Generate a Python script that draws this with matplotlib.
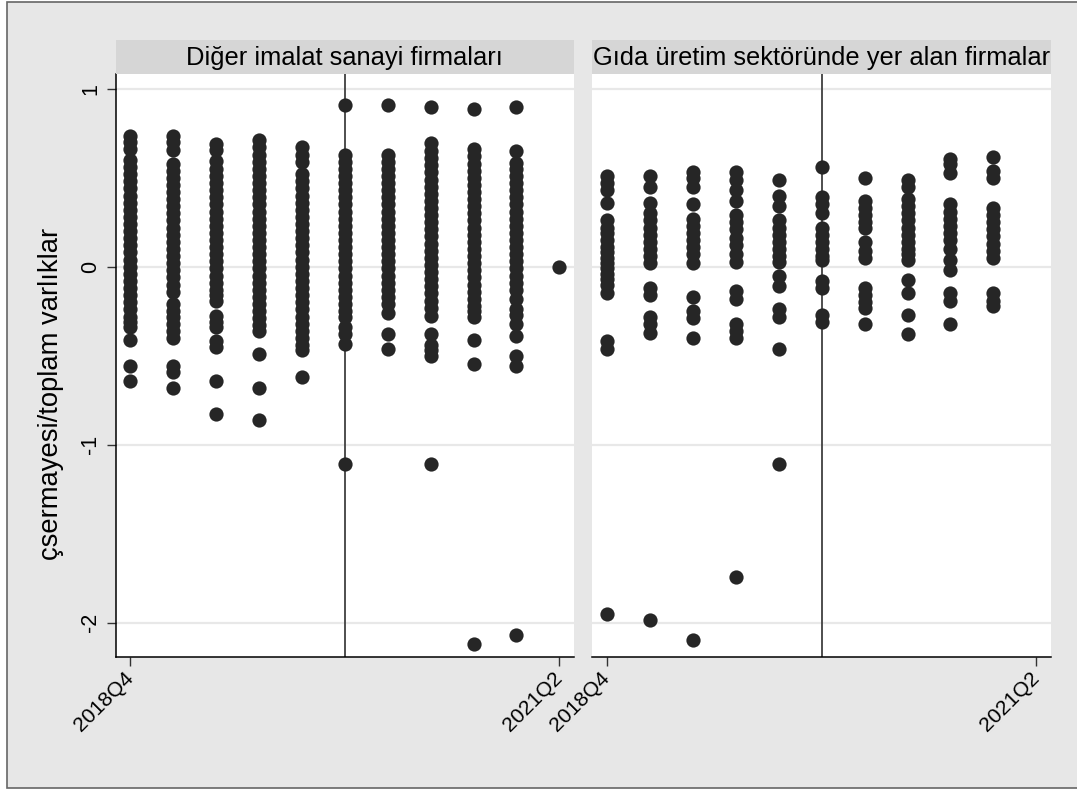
import matplotlib
matplotlib.use("Agg")
import matplotlib.pyplot as plt
from matplotlib.patches import Rectangle

plt.rcParams['font.family'] = ['Liberation Sans', 'DejaVu Sans']

quarters = ["2018Q4", "2019Q1", "2019Q2", "2019Q3", "2019Q4", "2020Q1",
            "2020Q2", "2020Q3", "2020Q4", "2021Q1", "2021Q2"]
panel_titles = ["Diğer imalat sanayi firmaları",
                "Gıda üretim sektöründe yer alan firmalar"]
y_title = "çsermayesi/toplam varlıklar"
break_quarter = "2020Q1"
y_ticks = [-2, -1, 0, 1]

# --- Diğer imalat sanayi firmaları (one list per quarter) ---
d_2018q4 = [0.736, 0.70, 0.66, 0.60, 0.56, 0.52, 0.48, 0.44, 0.40, 0.36, 0.32, 0.28,
            0.24, 0.20, 0.16, 0.12, 0.08, 0.04, 0.00, -0.04, -0.08, -0.12, -0.16,
            -0.20, -0.24, -0.28, -0.31, -0.34, -0.41, -0.556, -0.64]
d_2019q1 = [0.736, 0.70, 0.655, 0.58, 0.54, 0.50, 0.46, 0.42, 0.38, 0.34, 0.30, 0.26,
            0.22, 0.18, 0.14, 0.10, 0.06, 0.02, -0.02, -0.06, -0.10, -0.14, -0.21,
            -0.25, -0.28, -0.32, -0.36, -0.40, -0.556, -0.59, -0.68]
d_2019q2 = [0.69, 0.655, 0.595, 0.55, 0.51, 0.47, 0.43, 0.39, 0.35, 0.31, 0.27, 0.23,
            0.19, 0.15, 0.11, 0.07, 0.03, -0.01, -0.05, -0.09, -0.13, -0.16, -0.19,
            -0.275, -0.31, -0.34, -0.415, -0.45, -0.64, -0.83]
d_2019q3 = [0.71, 0.67, 0.63, 0.59, 0.55, 0.51, 0.47, 0.43, 0.39, 0.35, 0.31, 0.27,
            0.23, 0.19, 0.15, 0.11, 0.07, 0.03, -0.01, -0.05, -0.09, -0.13, -0.17,
            -0.21, -0.25, -0.29, -0.33, -0.36, -0.49, -0.68, -0.86]
d_2019q4 = [0.67, 0.63, 0.59, 0.52, 0.48, 0.44, 0.40, 0.36, 0.32, 0.28, 0.24, 0.20,
            0.16, 0.12, 0.08, 0.04, 0.00, -0.04, -0.08, -0.12, -0.16, -0.20, -0.24,
            -0.28, -0.32, -0.36, -0.40, -0.44, -0.47, -0.62]
d_2020q1 = [0.91, 0.63, 0.59, 0.55, 0.51, 0.47, 0.43, 0.39, 0.35, 0.31, 0.27, 0.23,
            0.19, 0.15, 0.11, 0.07, 0.03, -0.01, -0.05, -0.09, -0.13, -0.17, -0.21,
            -0.25, -0.285, -0.34, -0.38, -0.435, -1.11]
d_2020q2 = [0.91, 0.63, 0.59, 0.55, 0.51, 0.47, 0.43, 0.39, 0.35, 0.31, 0.27, 0.23,
            0.19, 0.15, 0.11, 0.07, 0.03, -0.01, -0.05, -0.09, -0.13, -0.17, -0.21,
            -0.26, -0.38, -0.46]
d_2020q3 = [0.895, 0.695, 0.65, 0.61, 0.57, 0.53, 0.49, 0.45, 0.41, 0.37, 0.33, 0.29,
            0.25, 0.21, 0.17, 0.13, 0.09, 0.05, 0.01, -0.03, -0.07, -0.11, -0.15,
            -0.19, -0.23, -0.275, -0.38, -0.44, -0.47, -0.50, -1.11]
d_2020q4 = [0.885, 0.66, 0.62, 0.58, 0.54, 0.50, 0.46, 0.42, 0.38, 0.34, 0.30, 0.26,
            0.22, 0.18, 0.14, 0.10, 0.06, 0.02, -0.02, -0.06, -0.10, -0.14, -0.18,
            -0.22, -0.25, -0.285, -0.41, -0.545, -2.12]
d_2021q1 = [0.895, 0.65, 0.585, 0.55, 0.51, 0.47, 0.43, 0.39, 0.35, 0.31, 0.27, 0.23,
            0.19, 0.15, 0.11, 0.07, 0.03, -0.01, -0.05, -0.09, -0.13, -0.18, -0.24,
            -0.27, -0.32, -0.39, -0.50, -0.556, -2.07]
d_2021q2 = [0.0]

# --- Gıda üretim sektöründe yer alan firmalar ---
g_2018q4 = [0.51, 0.47, 0.43, 0.36, 0.26, 0.22, 0.19, 0.15, 0.11, 0.08, 0.05, 0.02,
            -0.01, -0.04, -0.07, -0.10, -0.145, -0.42, -0.46, -1.95]
g_2019q1 = [0.51, 0.45, 0.36, 0.30, 0.26, 0.22, 0.18, 0.14, 0.10, 0.06, 0.02,
            -0.12, -0.16, -0.28, -0.32, -0.375, -1.985]
g_2019q2 = [0.53, 0.50, 0.45, 0.35, 0.27, 0.23, 0.19, 0.15, 0.11, 0.07, 0.02,
            -0.17, -0.25, -0.29, -0.40, -2.10]
g_2019q3 = [0.53, 0.49, 0.43, 0.37, 0.29, 0.25, 0.21, 0.16, 0.12, 0.07, 0.025,
            -0.135, -0.18, -0.32, -0.36, -0.40, -1.745]
g_2019q4 = [0.49, 0.40, 0.34, 0.26, 0.22, 0.18, 0.14, 0.10, 0.06, 0.025, -0.05,
            -0.11, -0.24, -0.28, -0.46, -1.11]
g_2020q1 = [0.56, 0.39, 0.35, 0.30, 0.22, 0.18, 0.14, 0.10, 0.06, 0.035, -0.08,
            -0.12, -0.27, -0.31]
g_2020q2 = [0.50, 0.37, 0.33, 0.29, 0.25, 0.22, 0.14, 0.09, 0.05, -0.12, -0.16,
            -0.20, -0.23, -0.32]
g_2020q3 = [0.49, 0.45, 0.38, 0.34, 0.30, 0.26, 0.22, 0.18, 0.14, 0.10, 0.07, 0.04,
            -0.075, -0.15, -0.27, -0.38]
g_2020q4 = [0.605, 0.575, 0.525, 0.35, 0.31, 0.27, 0.23, 0.19, 0.15, 0.10, 0.035,
            -0.02, -0.145, -0.19, -0.32]
g_2021q1 = [0.615, 0.54, 0.50, 0.33, 0.29, 0.25, 0.21, 0.17, 0.13, 0.09, 0.05,
            -0.15, -0.19, -0.22]
g_2021q2 = []

panels = [
    [d_2018q4, d_2019q1, d_2019q2, d_2019q3, d_2019q4, d_2020q1,
     d_2020q2, d_2020q3, d_2020q4, d_2021q1, d_2021q2],
    [g_2018q4, g_2019q1, g_2019q2, g_2019q3, g_2019q4, g_2020q1,
     g_2020q2, g_2020q3, g_2020q4, g_2021q1, g_2021q2],
]

W, H = 1077, 791
BG = "#e7e7e7"
STRIP = "#d6d6d6"
DOT = "#262626"


def px_box(x0, y0, x1, y1):
    return [x0 / W, 1 - y1 / H, (x1 - x0) / W, (y1 - y0) / H]


fig = plt.figure(figsize=(W / 100, H / 100), dpi=100, facecolor="white")

# graph region background with its frame
bg_ax = fig.add_axes([0, 0, 1, 1], zorder=-5)
bg_ax.set_axis_off()
bg_ax.set_xlim(0, W)
bg_ax.set_ylim(H, 0)
bg_ax.add_patch(Rectangle((7, 2), W + 10, 786, facecolor=BG,
                          edgecolor="#666666", linewidth=1.2))

panel_x = [(115.6, 574.0), (592.3, 1051.0)]
top, bottom = 74, 657.3

for k, (x0, x1) in enumerate(panel_x):
    ax = fig.add_axes(px_box(x0, top, x1, bottom))
    ax.set_facecolor("white")

    for yt in y_ticks:
        ax.axhline(yt, color="#e8e8e8", lw=1.6, zorder=1)
    ax.axvline(quarters.index(break_quarter), color="#404040", lw=1.3, zorder=2)

    for i, vals in enumerate(panels[k]):
        ax.scatter([i] * len(vals), vals, s=105, c=DOT, linewidths=0, zorder=3)

    ax.set_xlim(-0.34, 10.34)
    ax.set_ylim(-2.195, 1.083)

    ax.set_xticks([0, len(quarters) - 1])
    ax.set_xticklabels([quarters[0], quarters[-1]], rotation=45,
                       ha="right", va="center", rotation_mode="anchor")
    ax.tick_params(axis="x", length=6.5, width=1, color="#333333",
                   labelsize=15.2, pad=6)

    for side in ["top", "right"]:
        ax.spines[side].set_visible(False)
    ax.spines["bottom"].set_linewidth(1.1)
    ax.spines["bottom"].set_color("black")

    if k == 0:
        ax.set_yticks(y_ticks)
        ax.set_yticklabels([str(v) for v in y_ticks], rotation=90, va="center")
        ax.tick_params(axis="y", length=6.5, width=1, color="#333333",
                       labelsize=15.5, pad=4)
        ax.spines["left"].set_linewidth(1.1)
        ax.spines["left"].set_color("black")
    else:
        ax.set_yticks([])
        ax.spines["left"].set_visible(False)

    # strip with panel title
    sax = fig.add_axes(px_box(x0, 40, x1, top))
    sax.set_facecolor(STRIP)
    sax.set_xticks([])
    sax.set_yticks([])
    for s in sax.spines.values():
        s.set_visible(False)
    sax.text(0.5, 0.48, panel_titles[k], ha="center", va="center",
             fontsize=18.4, transform=sax.transAxes)

fig.text(51 / W, 1 - 394 / H, y_title, rotation=90, ha="center",
         va="center", fontsize=19.7)

fig.savefig("out.png", dpi=100, facecolor=fig.get_facecolor())
